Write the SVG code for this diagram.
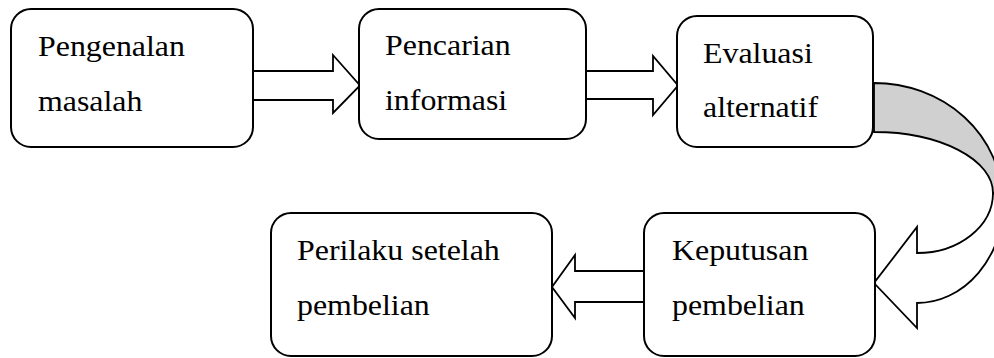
<svg xmlns="http://www.w3.org/2000/svg" width="994" height="358" viewBox="0 0 994 358">
<style>
.box{fill:#fff;stroke:#000;stroke-width:2}
.arr{fill:#fff;stroke:#000;stroke-width:1.8;stroke-linejoin:miter}
.band{fill:#d0d0d0;stroke:#000;stroke-width:1.8}
.t{font-family:"Liberation Serif","Times New Roman",serif;font-size:29px;fill:#000}
</style>
<rect width="994" height="358" fill="#fff"/>
<g id="connectors">
<polygon class="arr" points="253,71 333,71 333,55 360,85.5 333,113 333,100 253,100"/>
<polygon class="arr" points="586,71 653,71 653,56 678,85.5 653,115 653,99 586,99"/>
<polygon class="arr" points="644,271 575,271 575,255 552,287 575,318 575,302 644,302"/>
<path class="band" d="M874,83 A128,117 0 0 1 1002,200 L993,193 A119,61 0 0 0 874,132 Z"/>
<path class="arr" d="M993,193 A76,60 0 0 1 917,253 L917,227 L874,283 L917,328 L917,303 A87,103 0 0 0 1004,200 Z"/>
</g>
<g id="n1">
<rect class="box" x="11" y="9" width="242" height="138" rx="20"/>
<text class="t" transform="matrix(1.1 0 0 1 38 56)">Pengenalan</text>
<text class="t" transform="matrix(1.1 0 0 1 38 111)">masalah</text>
</g>
<g id="n2">
<rect class="box" x="359" y="9" width="227" height="130" rx="20"/>
<text class="t" transform="matrix(1.1 0 0 1 385 55)">Pencarian</text>
<text class="t" transform="matrix(1.1 0 0 1 385 110)">informasi</text>
</g>
<g id="n3">
<rect class="box" x="677" y="16" width="196" height="131" rx="20"/>
<text class="t" transform="matrix(1.1 0 0 1 703 63)">Evaluasi</text>
<text class="t" transform="matrix(1.1 0 0 1 703 117)">alternatif</text>
</g>
<g id="n4">
<rect class="box" x="271" y="213" width="281" height="143" rx="20"/>
<text class="t" transform="matrix(1.1 0 0 1 297 260)">Perilaku setelah</text>
<text class="t" transform="matrix(1.1 0 0 1 297 315)">pembelian</text>
</g>
<g id="n5">
<rect class="box" x="644" y="213" width="231" height="143" rx="20"/>
<text class="t" transform="matrix(1.1 0 0 1 672 260)">Keputusan</text>
<text class="t" transform="matrix(1.1 0 0 1 672 315)">pembelian</text>
</g>
</svg>
